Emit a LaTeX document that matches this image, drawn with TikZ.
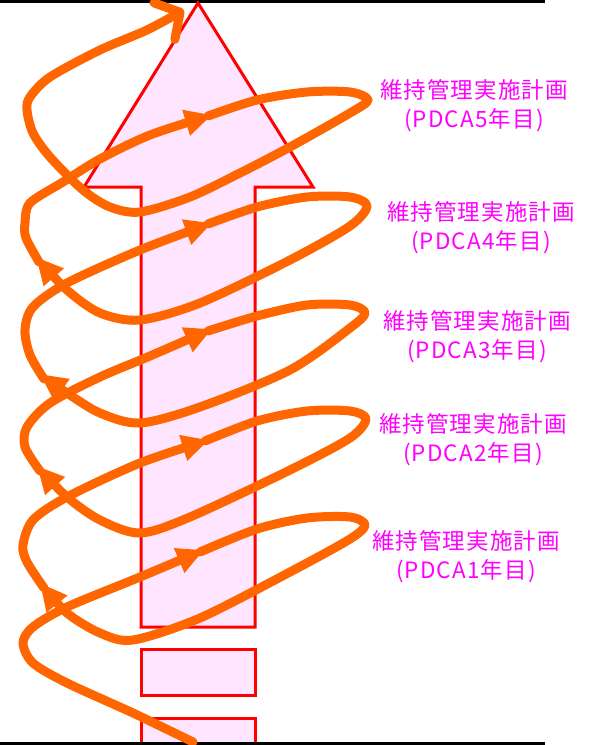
\documentclass[tikz,border=0pt]{standalone}
\usepackage{fontspec}
\newfontfamily\jpfont[LetterSpace=5]{Noto Sans CJK JP}
\usetikzlibrary{arrows.meta}
\definecolor{spiralc}{HTML}{FF6600}
\definecolor{shaftfill}{HTML}{FFE5FF}
\definecolor{shaftline}{HTML}{FF0000}
\definecolor{labelc}{HTML}{FF00FF}
\begin{document}
\begin{tikzpicture}[x=1pt,y=-1pt,
  rule/.style={draw=black,line width=2.5pt},
  shaftbox/.style={draw=shaftline,fill=shaftfill,line width=3pt,line join=miter},
  spiral/.style={draw=spiralc,line width=9pt,line cap=round,line join=round},
  tipped/.style={-{Triangle[length=27pt,width=25pt]}},
  barbed/.style={-{Straight Barb[length=18pt,width=42pt,round]}},
  lab/.style={text=labelc,align=center,font=\jpfont\fontsize{22.5pt}{29pt}\selectfont,inner sep=0pt}]
\useasboundingbox (0,0) rectangle (589,745);
% horizontal rules
\coordinate (t0) at (0,1.3);
\coordinate (t1) at (545,1.3);
\coordinate (b0) at (0,743.5);
\coordinate (b1) at (545,743.5);
\draw[rule] (t0) -- (t1);
% big arrow
\draw[shaftbox] (141,627) -- (141,187) -- (84,187) -- (198,3) -- (313,187) -- (255,187) -- (255,627) -- cycle;
\draw[shaftbox] (141,649) rectangle (255,695);
\draw[shaftbox] (141,718) rectangle (255,745);
\draw[rule] (b0) -- (b1);
% spiral
\draw[spiral,tipped] plot[smooth] coordinates {(193,742) (133,713) (67,683) (33,663) (23,643) (33,627) (67,607) (140,577) (204,550)};
\draw[spiral,tipped] plot[smooth] coordinates {(200,552) (257,529) (307,518) (350,517) (365,525) (350,539) (290,572) (200,618) (133,640) (100,633) (67,613) (40,583)};
\draw[spiral,tipped] plot[smooth] coordinates {(44,588) (27,562) (23,545) (33,520) (67,497) (140,463) (209,440)};
\draw[spiral,tipped] plot[smooth] coordinates {(205,441) (257,421) (307,411) (350,411) (366,419) (350,438) (290,470) (190,517) (140,533) (100,520) (67,497) (37,466)};
\draw[spiral,tipped] plot[smooth] coordinates {(40,471) (25,447) (27,427) (50,403) (100,377) (150,356) (212,329)};
\draw[spiral,tipped] plot[smooth] coordinates {(208,331) (257,316) (307,305) (350,305) (365,313) (350,328) (290,370) (200,407) (140,423) (100,413) (67,393) (40,374)};
\draw[spiral,tipped] plot[smooth] coordinates {(44,379) (30,355) (25,330) (33,307) (67,283) (140,250) (212,223)};
\draw[spiral,tipped] plot[smooth] coordinates {(208,224) (257,207) (307,197) (350,197) (367,206) (350,226) (290,260) (200,303) (140,320) (100,313) (67,290) (36,257)};
\draw[spiral,tipped] plot[smooth] coordinates {(39,262) (26,238) (25,223) (30,203) (63,182) (100,159) (150,135) (212,115)};
\draw[spiral,barbed] plot[smooth] coordinates {(208,116) (257,100) (307,92) (350,92) (368,100) (350,113) (290,147) (240,173) (190,197) (140,212) (110,207) (83,190) (50,157) (33,133) (27,110) (30,97) (50,77) (100,50) (147,30) (184,10)};
% labels
\node[lab] (lab5) at (474,106) {維持管理実施計画\\(PDCA5年目)};
\node[lab] (lab4) at (481,228) {維持管理実施計画\\(PDCA4年目)};
\node[lab] (lab3) at (477,337) {維持管理実施計画\\(PDCA3年目)};
\node[lab] (lab2) at (473,440) {維持管理実施計画\\(PDCA2年目)};
\node[lab] (lab1) at (466,557) {維持管理実施計画\\(PDCA1年目)};
\end{tikzpicture}
\end{document}
